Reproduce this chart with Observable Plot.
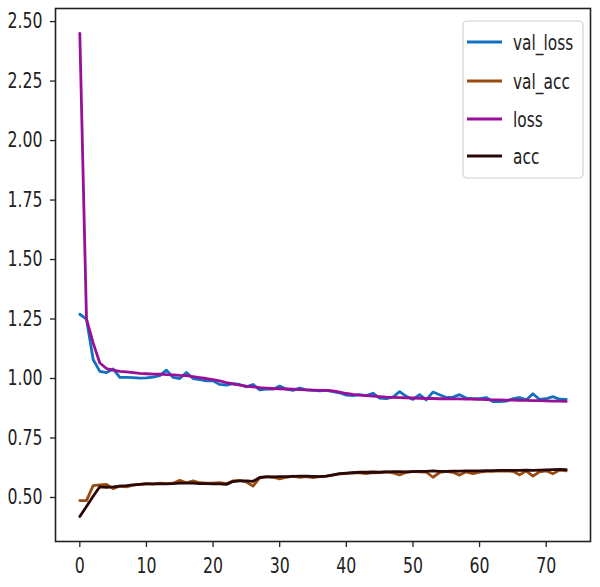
<!DOCTYPE html>
<html>
<head>
<meta charset="utf-8">
<script src="https://cdn.jsdelivr.net/npm/d3@7"></script>
<script src="https://cdn.jsdelivr.net/npm/@observablehq/plot@0.6"></script>
<style>
  html, body { margin: 0; padding: 0; background: #fff; }
  #chart { position: relative; width: 600px; height: 587px; }
</style>
</head>
<body>
<div id="chart"></div>
<script>
// ---- data ----
const seriesNames = ["val_loss", "val_acc", "loss", "acc"];
const seriesColors = ["#1170c0", "#9a4c10", "#990f99", "#2a0808"];
const xTicks = [0, 10, 20, 30, 40, 50, 60, 70];
const yTicks = [0.5, 0.75, 1.0, 1.25, 1.5, 1.75, 2.0, 2.25, 2.5];

const val_loss = [1.27, 1.25, 1.08, 1.03, 1.025, 1.04, 1.005, 1.005, 1.004, 1.002,
  1.003, 1.006, 1.012, 1.035, 1.005, 1.0, 1.025, 1.0, 0.995, 0.99,
  0.99, 0.975, 0.972, 0.978, 0.975, 0.965, 0.975, 0.952, 0.955, 0.955,
  0.968, 0.955, 0.95, 0.96, 0.952, 0.95, 0.948, 0.95, 0.945, 0.94,
  0.93, 0.928, 0.932, 0.928, 0.938, 0.918, 0.915, 0.922, 0.945, 0.925,
  0.912, 0.932, 0.91, 0.943, 0.932, 0.92, 0.922, 0.932, 0.918, 0.915,
  0.915, 0.92, 0.903, 0.903, 0.905, 0.915, 0.92, 0.91, 0.936, 0.912,
  0.915, 0.924, 0.913, 0.912];

const val_acc = [0.487, 0.487, 0.55, 0.553, 0.555, 0.537, 0.548, 0.545, 0.552, 0.555,
  0.558, 0.556, 0.56, 0.558, 0.56, 0.572, 0.562, 0.57, 0.562, 0.56,
  0.56, 0.562, 0.558, 0.57, 0.572, 0.565, 0.548, 0.582, 0.588, 0.585,
  0.578, 0.585, 0.59, 0.585, 0.588, 0.584, 0.588, 0.59, 0.594, 0.599,
  0.6, 0.604, 0.603, 0.6, 0.604, 0.605, 0.608, 0.603, 0.595, 0.606,
  0.61, 0.608, 0.607, 0.585, 0.605, 0.61, 0.606, 0.594, 0.608, 0.6,
  0.607, 0.61, 0.61, 0.612, 0.611, 0.61, 0.595, 0.612, 0.59, 0.608,
  0.612, 0.6, 0.615, 0.612];

const loss = [2.45, 1.25, 1.15, 1.065, 1.042, 1.035, 1.03, 1.028, 1.025, 1.022,
  1.02, 1.018, 1.018, 1.016, 1.015, 1.013, 1.012, 1.008, 1.004, 1.0,
  0.995, 0.99, 0.983, 0.977, 0.972, 0.968, 0.965, 0.962, 0.96, 0.958,
  0.957, 0.956, 0.955, 0.953, 0.952, 0.951, 0.95, 0.95, 0.948, 0.943,
  0.937, 0.933, 0.93, 0.928, 0.926, 0.924, 0.922, 0.921, 0.92, 0.919,
  0.918, 0.917, 0.916, 0.916, 0.915, 0.915, 0.914, 0.914, 0.913, 0.913,
  0.912, 0.911, 0.91, 0.91, 0.909, 0.909, 0.908, 0.908, 0.907, 0.907,
  0.906, 0.905, 0.905, 0.904];

const acc = [0.42, 0.462, 0.505, 0.545, 0.543, 0.545, 0.548, 0.55, 0.553, 0.555,
  0.557, 0.557, 0.557, 0.557, 0.558, 0.56, 0.56, 0.56, 0.558, 0.558,
  0.557, 0.557, 0.555, 0.567, 0.57, 0.57, 0.568, 0.584, 0.587, 0.587,
  0.588, 0.588, 0.589, 0.59, 0.59, 0.589, 0.588, 0.59, 0.595, 0.6,
  0.602, 0.604, 0.606, 0.606, 0.607, 0.606, 0.608, 0.609, 0.609, 0.608,
  0.609, 0.61, 0.61, 0.612, 0.61, 0.61, 0.611, 0.611, 0.612, 0.612,
  0.612, 0.613, 0.613, 0.614, 0.614, 0.614, 0.614, 0.615, 0.614, 0.615,
  0.616, 0.617, 0.618, 0.617];

// ---- build table ----
const seriesValues = [val_loss, val_acc, loss, acc];
const rows = [];
seriesValues.forEach((arr, s) => arr.forEach((v, i) => rows.push({series: seriesNames[s], epoch: i, value: v})));

const FONT = "'DejaVu Sans', sans-serif";

const plot = Plot.plot({
  width: 600,
  height: 587,
  marginLeft: 55,
  marginRight: 10,
  marginTop: 8,
  marginBottom: 46,
  style: {fontFamily: FONT, fontSize: "21px", color: "#222", background: "#fff"},
  x: {domain: [-3.65, 76.65], label: null},
  y: {domain: [0.315, 2.555], label: null},
  marks: [
    ...seriesNames.map((name, s) => Plot.line(rows.filter(d => d.series === name), {
      x: "epoch", y: "value", stroke: seriesColors[s], strokeWidth: 2.8,
      strokeLinejoin: "round", strokeLinecap: "round"
    })),
    Plot.axisX({ticks: xTicks, tickSize: 6, tickPadding: 11, tickFormat: d3.format("d"), label: null, stroke: "#222", strokeWidth: 1.3}),
    Plot.axisY({ticks: yTicks, tickSize: 5, tickPadding: 8, tickFormat: d3.format(".2f"), label: null, stroke: "#222", strokeWidth: 1.3}),
    Plot.frame({stroke: "#222", strokeWidth: 1.6})
  ]
});

document.getElementById("chart").appendChild(plot);

// Condense text horizontally (the reference font looks squeezed)
function squeeze(sel, k) {
  sel.each(function() {
    const w = this.getComputedTextLength();
    if (w > 0) {
      this.setAttribute("textLength", (w * k).toFixed(2));
      this.setAttribute("lengthAdjust", "spacingAndGlyphs");
    }
  });
}
squeeze(d3.select(plot).selectAll("g[aria-label='x-axis tick label'] text, g[aria-label='y-axis tick label'] text"), 0.75);

// ---- legend ----
const svg = d3.select(plot);
const lg = svg.append("g").attr("class", "legend").attr("text-anchor", "start");
const lx = 463, ly = 21, lw = 120, lh = 157;
lg.append("rect").attr("x", lx).attr("y", ly).attr("width", lw).attr("height", lh)
  .attr("rx", 4).attr("fill", "#fff").attr("fill-opacity", 0.85)
  .attr("stroke", "#d0d0d0").attr("stroke-width", 1.2);
const rowY = [42, 81, 119, 156];
seriesNames.forEach((name, i) => {
  lg.append("line").attr("x1", lx + 4).attr("x2", lx + 39)
    .attr("y1", rowY[i]).attr("y2", rowY[i])
    .attr("stroke", seriesColors[i]).attr("stroke-width", 3);
  lg.append("text")
    .attr("x", lx + 50).attr("y", rowY[i])
    .attr("dy", "0.35em")
    .attr("text-anchor", "start")
    .attr("font-family", FONT).attr("font-size", 22).attr("fill", "#222")
    .text(name);
});
squeeze(lg.selectAll("text"), 0.7);
</script>
</body>
</html>
